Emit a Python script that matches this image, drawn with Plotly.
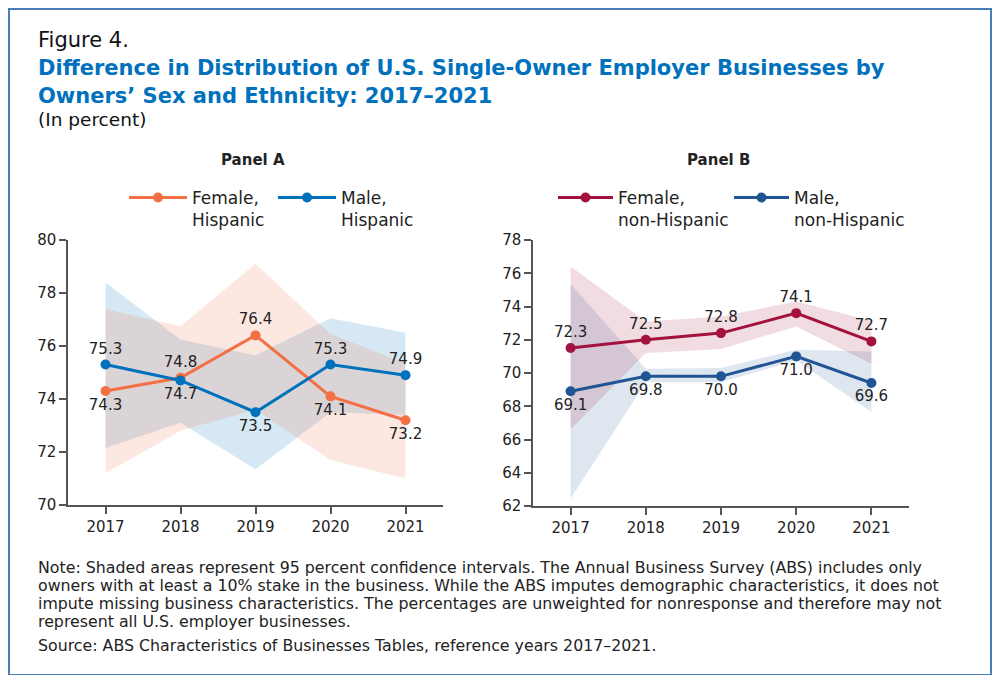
import plotly.graph_objects as go

years = [2017, 2018, 2019, 2020, 2021]
year_ticks = ["2017", "2018", "2019", "2020", "2021"]

# Panel A (Hispanic)
fem_hisp = [74.3, 74.8, 76.4, 74.1, 73.2]
fem_hisp_labels = ["74.3", "74.8", "76.4", "74.1", "73.2"]
fem_hisp_lo = [71.2, 72.8, 73.6, 71.7, 71.0]
fem_hisp_hi = [77.4, 76.75, 79.1, 76.45, 75.35]
male_hisp = [75.3, 74.7, 73.5, 75.3, 74.9]
male_hisp_labels = ["75.3", "74.7", "73.5", "75.3", "74.9"]
male_hisp_lo = [72.15, 73.1, 71.35, 73.5, 73.4]
male_hisp_hi = [78.4, 76.25, 75.65, 77.05, 76.5]

# Panel B (non-Hispanic)
fem_nonhisp = [71.5, 72.0, 72.4, 73.6, 71.9]
fem_nonhisp_labels = ["72.3", "72.5", "72.8", "74.1", "72.7"]
fem_nonhisp_lo = [66.6, 71.2, 71.45, 72.8, 70.55]
fem_nonhisp_hi = [76.4, 73.1, 73.4, 74.3, 73.15]
male_nonhisp = [68.9, 69.8, 69.8, 71.0, 69.4]
male_nonhisp_labels = ["69.1", "69.8", "70.0", "71.0", "69.6"]
male_nonhisp_lo = [62.45, 69.45, 69.45, 70.75, 67.65]
male_nonhisp_hi = [75.35, 70.25, 70.3, 71.4, 71.3]

ORANGE = "#F36F44"
BLUE = "#0072BC"
MAROON = "#A3123F"
NAVY = "#205493"
FONT = "DejaVu Sans"
TXT = "#222222"

fig = go.Figure()


def band(x, lo, hi, color, xa, ya):
    fig.add_trace(go.Scatter(
        x=list(x) + list(x)[::-1], y=list(hi) + list(lo)[::-1],
        fill="toself", fillcolor=color, line=dict(width=0),
        mode="lines", showlegend=False, hoverinfo="skip",
        xaxis=xa, yaxis=ya))


def series(y, labels, pos, color, name, xa, ya, leg):
    fig.add_trace(go.Scatter(
        x=years, y=y, text=labels, textposition=pos,
        mode="lines+markers+text", name=name,
        line=dict(color=color, width=3),
        marker=dict(color=color, size=10),
        textfont=dict(size=15, color=TXT, family=FONT),
        cliponaxis=False, legend=leg,
        xaxis=xa, yaxis=ya))


# Panel A bands (male first, female on top)
band(years, male_hisp_lo, male_hisp_hi, "rgba(0,114,188,0.16)", "x", "y")
band(years, fem_hisp_lo, fem_hisp_hi, "rgba(243,111,68,0.16)", "x", "y")
# Panel B bands
band(years, male_nonhisp_lo, male_nonhisp_hi, "rgba(32,84,147,0.15)", "x2", "y2")
band(years, fem_nonhisp_lo, fem_nonhisp_hi, "rgba(163,18,63,0.15)", "x2", "y2")

series(fem_hisp, fem_hisp_labels,
       ["bottom center", "top center", "top center", "bottom center", "bottom center"],
       ORANGE, "Female,<br>Hispanic", "x", "y", "legend")
series(male_hisp, male_hisp_labels,
       ["top center", "bottom center", "bottom center", "top center", "top center"],
       BLUE, "Male,<br>Hispanic", "x", "y", "legend")
series(fem_nonhisp, fem_nonhisp_labels, ["top center"] * 5,
       MAROON, "Female,<br>non-Hispanic", "x2", "y2", "legend2")
series(male_nonhisp, male_nonhisp_labels, ["bottom center"] * 5,
       NAVY, "Male,<br>non-Hispanic", "x2", "y2", "legend2")

# page body has an 8px margin; figure sized so the page is exactly 1000x683
OFF = 8
W, H = 1000 - 2 * OFF, 683 - 2 * OFF


def px(x):
    return (x - OFF) / W


def py(y):
    return 1 - (y - OFF) / H


axis_common = dict(showline=True, linecolor="#555555", linewidth=1.5,
                   ticks="outside", ticklen=7, tickcolor="#555555", tickwidth=1.5,
                   showgrid=False, zeroline=False, automargin=False,
                   tickfont=dict(size=15, color=TXT, family=FONT))

fig.update_layout(
    width=W, height=H,
    margin=dict(l=0, r=0, t=0, b=0, pad=0, autoexpand=False),
    paper_bgcolor="white", plot_bgcolor="white",
    font=dict(family=FONT, color=TXT),
    xaxis=dict(domain=[px(68), px(443)], range=[2016.5, 2021.5],
               tickvals=years, ticktext=year_ticks, anchor="y", **axis_common),
    yaxis=dict(domain=[py(505), py(240)], range=[70, 80], dtick=2,
               anchor="x", **axis_common),
    xaxis2=dict(domain=[px(533), px(909)], range=[2016.5, 2021.5],
                tickvals=years, ticktext=year_ticks, anchor="y2", **axis_common),
    yaxis2=dict(domain=[py(506), py(240)], range=[62, 78], dtick=2,
                anchor="x2", **axis_common),
    legend=dict(orientation="h", x=px(124), y=py(180), xanchor="left", yanchor="top",
                font=dict(size=17, color=TXT, family=FONT), valign="top",
                itemwidth=58, entrywidth=76, bgcolor="rgba(0,0,0,0)"),
    legend2=dict(orientation="h", x=px(553), y=py(180), xanchor="left", yanchor="top",
                 font=dict(size=17, color=TXT, family=FONT), valign="top",
                 itemwidth=55, entrywidth=106, bgcolor="rgba(0,0,0,0)"),
    shapes=[dict(type="rect", xref="paper", yref="paper",
                 x0=px(9), x1=px(991), y0=py(675), y1=py(9),
                 line=dict(color="#4A7DB5", width=2))],
)

annos = [
    dict(text="Figure 4.", x=px(36), y=py(40), size=21, color="#111111"),
    dict(text="<b>Difference in Distribution of U.S. Single-Owner Employer Businesses by</b>",
         x=px(36), y=py(68), size=21, color="#0071BC"),
    dict(text="<b>Owners’ Sex and Ethnicity: 2017–2021</b>",
         x=px(36), y=py(96), size=21, color="#0071BC"),
    dict(text="(In percent)", x=px(36), y=py(120), size=18.5, color="#111111"),
    dict(text="Note: Shaded areas represent 95 percent confidence intervals. The Annual Business Survey (ABS) includes only",
         x=px(36), y=py(567), size=15.8, color=TXT),
    dict(text="owners with at least a 10% stake in the business. While the ABS imputes demographic characteristics, it does not",
         x=px(36), y=py(585), size=15.8, color=TXT),
    dict(text="impute missing business characteristics. The percentages are unweighted for nonresponse and therefore may not",
         x=px(36), y=py(603), size=15.8, color=TXT),
    dict(text="represent all U.S. employer businesses.",
         x=px(36), y=py(621), size=15.8, color=TXT),
    dict(text="Source: ABS Characteristics of Businesses Tables, reference years 2017–2021.",
         x=px(36), y=py(645), size=15.8, color=TXT),
]
for a in annos:
    fig.add_annotation(text=a["text"], x=a["x"], y=a["y"], xref="paper", yref="paper",
                       xanchor="left", yanchor="middle", showarrow=False,
                       font=dict(size=a["size"], color=a["color"], family=FONT))

for t, xc in [("<b>Panel A</b>", 253), ("<b>Panel B</b>", 718)]:
    fig.add_annotation(text=t, x=px(xc), y=py(160), xref="paper", yref="paper",
                       xanchor="center", yanchor="middle", showarrow=False,
                       font=dict(size=15, color=TXT, family=FONT))

fig.write_html("out.html")
